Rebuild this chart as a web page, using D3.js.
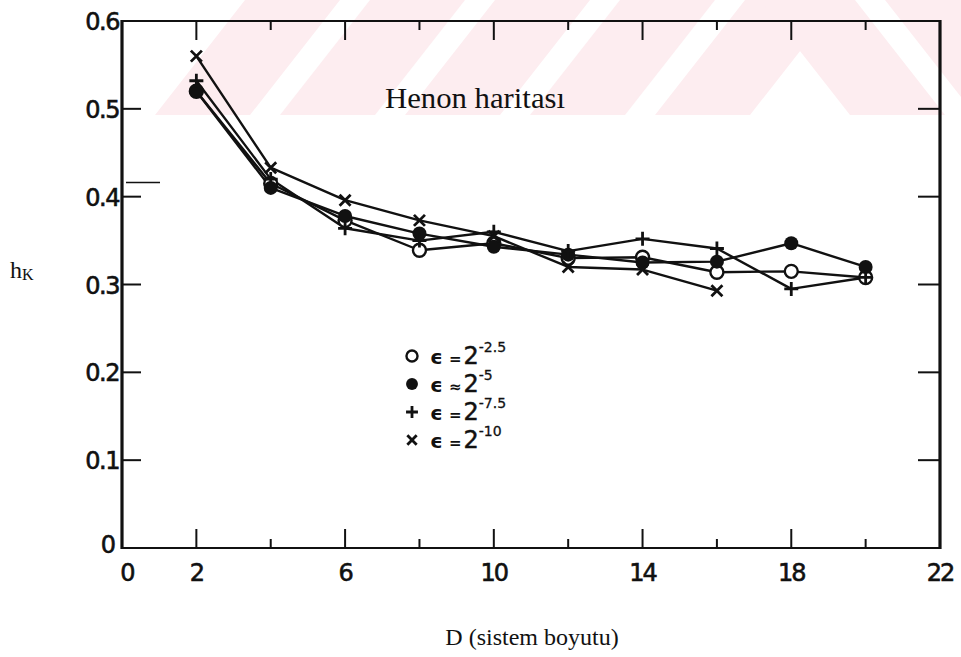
<!DOCTYPE html>
<html>
<head>
<meta charset="utf-8">
<script src="https://cdn.jsdelivr.net/npm/d3@7"></script>
<style>
  html, body { margin: 0; padding: 0; background: #fff; }
  svg { display: block; }
</style>
</head>
<body>
<svg id="chart" width="961" height="657"></svg>
<script>
// System dimension D
const dims = [2, 4, 6, 8, 10, 12, 14, 16, 18, 20];

// Kolmogorov entropy estimates h_K for each ε
const hOpen   = [0.520, 0.415, 0.373, 0.339, 0.347, 0.330, 0.331, 0.314, 0.315, 0.308]; // ε = 2^-2.5
const hFilled = [0.520, 0.410, 0.378, 0.358, 0.343, 0.334, 0.325, 0.326, 0.347, 0.320]; // ε = 2^-5
const hPlus   = [0.532, 0.420, 0.364, 0.350, 0.360, 0.338, 0.352, 0.341, 0.295, 0.308]; // ε = 2^-7.5
const hCross  = [0.560, 0.433, 0.396, 0.373, 0.355, 0.320, 0.317, 0.293];               // ε = 2^-10

const legendBase = ["2", "2", "2", "2"];
const legendExp  = ["-2.5", "-5", "-7.5", "-10"];
const legendRel  = ["=", "\u2248", "=", "="];

const xTickLabels = [0, 2, 6, 10, 14, 18, 22];
const xMinorTicks = [4, 8, 12, 16, 20];
const xMajorTicks = [2, 6, 10, 14, 18];
const yTickLabels = [0.1, 0.2, 0.3, 0.4, 0.5, 0.6];

const svg = d3.select("#chart");

// Faint diagonal band across the top of the page
const bandFill = "#fdedf0";
const clip = svg.append("defs").append("clipPath").attr("id", "bandClip");
clip.append("rect").attr("x", 155).attr("y", 0).attr("width", 806).attr("height", 115);
const bandG = svg.append("g").attr("clip-path", "url(#bandClip)");
[155, 280, 405, 530, 655].forEach(b => {
  bandG.append("polygon")
    .attr("points", `${b},115 ${b + 95},115 ${b + 185},0 ${b + 90},0`)
    .attr("fill", bandFill);
});
[760, 885].forEach(t => {
  bandG.append("polygon")
    .attr("points", `${t},0 ${t + 95},0 ${t + 185},115 ${t + 90},115`)
    .attr("fill", bandFill);
});

const mLeft = 122, mRight = 940, mTop = 21, mBottom = 548;
const x = d3.scaleLinear().domain([0, 22]).range([mLeft, mRight]);
const y = d3.scaleLinear().domain([0, 0.6]).range([mBottom, mTop]);

const ink = "#111";
const tickFont = "'DejaVu Sans', sans-serif";

// Frame
const frame = svg.append("g").attr("stroke", ink).attr("fill", "none");
frame.append("line").attr("x1", mLeft).attr("x2", mLeft).attr("y1", mTop - 1).attr("y2", mBottom + 1).attr("stroke-width", 3.2);
frame.append("line").attr("x1", mRight).attr("x2", mRight).attr("y1", mTop - 1).attr("y2", mBottom + 1).attr("stroke-width", 3.2);
frame.append("line").attr("x1", mLeft).attr("x2", mRight).attr("y1", mTop).attr("y2", mTop).attr("stroke-width", 2.2);
frame.append("line").attr("x1", mLeft).attr("x2", mRight).attr("y1", mBottom).attr("y2", mBottom).attr("stroke-width", 2.2);

// Inward ticks on all four sides
const ticks = svg.append("g").attr("stroke", ink).attr("stroke-width", 2);
xMajorTicks.forEach(v => {
  ticks.append("line").attr("x1", x(v)).attr("x2", x(v)).attr("y1", mTop).attr("y2", mTop + 19);
  ticks.append("line").attr("x1", x(v)).attr("x2", x(v)).attr("y1", mBottom).attr("y2", mBottom - 19);
});
xMinorTicks.forEach(v => {
  ticks.append("line").attr("x1", x(v)).attr("x2", x(v)).attr("y1", mTop).attr("y2", mTop + 9);
  ticks.append("line").attr("x1", x(v)).attr("x2", x(v)).attr("y1", mBottom).attr("y2", mBottom - 9);
});
yTickLabels.filter(v => v < 0.6).forEach(v => {
  ticks.append("line").attr("x1", mLeft).attr("x2", mLeft + 19).attr("y1", y(v)).attr("y2", y(v));
  ticks.append("line").attr("x1", mRight).attr("x2", mRight - 22).attr("y1", y(v)).attr("y2", y(v));
});
ticks.append("line").attr("x1", mLeft + 4).attr("x2", mLeft + 38).attr("y1", y(0.416)).attr("y2", y(0.416)).attr("stroke-width", 1.5);

// Tick labels
const labels = svg.append("g").attr("font-family", tickFont).attr("font-size", 24)
  .attr("fill", ink).attr("stroke", ink).attr("stroke-width", 0.6);
yTickLabels.forEach(v => {
  labels.append("text").attr("x", mLeft - 3).attr("y", y(v) + 9).attr("text-anchor", "end")
    .attr("letter-spacing", -1.5).text(v.toFixed(1));
});
labels.append("text").attr("x", mLeft - 6).attr("y", mBottom + 5).attr("text-anchor", "end").text("0");
xTickLabels.forEach(v => {
  labels.append("text").attr("x", x(v) + (v === 0 ? 5 : 0)).attr("y", mBottom + 33)
    .attr("text-anchor", "middle").attr("letter-spacing", -2).text(String(v));
});

// Axis titles
const serif = "'Liberation Serif', 'Times New Roman', serif";
const hk = svg.append("text").attr("x", 10).attr("y", 278).attr("font-family", serif).attr("font-size", 24).attr("fill", ink);
hk.append("tspan").text("h");
hk.append("tspan").attr("font-size", 16).attr("dy", 2).text("K");
svg.append("text").attr("x", 532).attr("y", 645).attr("text-anchor", "middle")
  .attr("font-family", serif).attr("font-size", 24).attr("fill", ink).text("D (sistem boyutu)");
svg.append("text").attr("x", 385).attr("y", 108)
  .attr("font-family", serif).attr("font-size", 29).attr("fill", ink)
  .attr("textLength", 180).attr("lengthAdjust", "spacingAndGlyphs").text("Henon haritası");

// Series
const line = d3.line().x(d => x(d[0])).y(d => y(d[1]));
const seriesList = [
  { vals: hOpen, kind: "open" },
  { vals: hFilled, kind: "filled" },
  { vals: hPlus, kind: "plus" },
  { vals: hCross, kind: "cross" }
];
const plot = svg.append("g");
seriesList.forEach(s => {
  const pts = s.vals.map((v, i) => [dims[i], v]);
  plot.append("path").attr("d", line(pts)).attr("fill", "none")
    .attr("stroke", ink).attr("stroke-width", 2.4).attr("stroke-linejoin", "round");
});

function drawMarker(g, kind, cx, cy, scale = 1) {
  if (kind === "open") {
    g.append("circle").attr("cx", cx).attr("cy", cy).attr("r", 6.5 * scale)
      .attr("fill", "#fff").attr("stroke", ink).attr("stroke-width", 2.4);
  } else if (kind === "filled") {
    g.append("circle").attr("cx", cx).attr("cy", cy).attr("r", 7 * scale).attr("fill", ink);
  } else if (kind === "plus") {
    const r = 7 * scale;
    g.append("path").attr("d", `M${cx - r},${cy}H${cx + r}M${cx},${cy - r}V${cy + r}`)
      .attr("stroke", ink).attr("stroke-width", 2.8);
  } else {
    const r = 5.5 * scale;
    g.append("path").attr("d", `M${cx - r},${cy - r}L${cx + r},${cy + r}M${cx - r},${cy + r}L${cx + r},${cy - r}`)
      .attr("stroke", ink).attr("stroke-width", 2.8);
  }
}

seriesList.forEach(s => {
  s.vals.forEach((v, i) => drawMarker(plot, s.kind, x(dims[i]), y(v)));
});

// Legend
const legend = svg.append("g").attr("font-family", tickFont).attr("fill", ink);
const legendKinds = ["open", "filled", "plus", "cross"];
const rowY = [357, 385, 413, 441];
legendKinds.forEach((k, i) => {
  drawMarker(legend, k, 412, rowY[i] - 1, 0.85);
  const t = legend.append("text").attr("x", 430).attr("y", rowY[i] + 7).attr("font-size", 20).attr("font-weight", "bold");
  t.append("tspan").text("\u03f5");
  t.append("tspan").attr("dx", 6).attr("font-size", 15).text(legendRel[i]);
  t.append("tspan").attr("dx", 2).attr("font-size", 24).attr("stroke", ink).attr("stroke-width", 0.5)
    .attr("font-weight", "normal").text(legendBase[i]);
  t.append("tspan").attr("dy", -12).attr("font-size", 14).attr("stroke", ink).attr("stroke-width", 0.3)
    .attr("font-weight", "normal").text(legendExp[i]);
});
</script>
</body>
</html>
